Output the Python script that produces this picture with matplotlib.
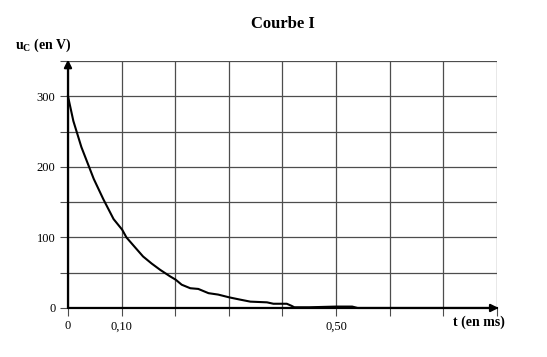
# Courbe I : décharge du condensateur, u_C en fonction de t
import matplotlib.pyplot as plt
import numpy as np

# valeurs
t_ms = [0.0, 0.010, 0.025, 0.048, 0.066, 0.085, 0.101, 0.109, 0.125, 0.140,
        0.156, 0.172, 0.190, 0.201, 0.212, 0.228, 0.243, 0.262, 0.280, 0.301,
        0.320, 0.340, 0.371, 0.383, 0.408, 0.417, 0.422, 0.450, 0.500, 0.530,
        0.540, 0.600, 0.700, 0.800]
u_C = [300, 265, 228, 183, 154, 126, 111, 100, 86, 73,
       63, 54, 45, 40, 33, 28, 27, 21, 19, 15,
       12, 9, 8, 6, 6, 3, 1, 1, 2, 2,
       0, 0, 0, 0]

x_ticks = [0, 0.1, 0.2, 0.3, 0.4, 0.5, 0.6, 0.7, 0.8]
x_labels = ['0', '0,10', '', '', '', '0,50', '', '', '']
y_ticks = [0, 50, 100, 150, 200, 250, 300, 350]
y_labels = ['0', '', '100', '', '200', '', '300', '']


def main():
    plt.rcParams['font.family'] = ['Liberation Serif', 'DejaVu Serif']
    plt.rcParams['mathtext.fontset'] = 'custom'
    plt.rcParams['mathtext.rm'] = 'Liberation Serif'

    fig = plt.figure(figsize=(5.47, 3.57), dpi=100)
    ax = fig.add_axes([0.1243, 0.1373, 0.7843, 0.6917])

    ax.set_xlim(0, 0.8)
    ax.set_ylim(0, 350)
    ax.set_xticks(x_ticks)
    ax.set_xticklabels(x_labels, fontsize=9)
    ax.set_yticks(y_ticks)
    ax.set_yticklabels(y_labels, fontsize=9)
    ax.tick_params(direction='out', length=6, width=0.8, color='0.3', pad=3)
    ax.grid(True, color='0.3', linewidth=0.9)
    for s in ax.spines.values():
        s.set_visible(False)

    # axes fléchés
    ax.annotate('', xy=(0.803, 0), xytext=(0, 0),
                arrowprops=dict(arrowstyle='-|>', color='black', lw=1.6,
                                mutation_scale=11, shrinkA=0, shrinkB=0),
                annotation_clip=False)
    ax.annotate('', xy=(0, 352), xytext=(0, 0),
                arrowprops=dict(arrowstyle='-|>', color='black', lw=1.6,
                                mutation_scale=11, shrinkA=0, shrinkB=0),
                annotation_clip=False)

    ax.plot(t_ms, u_C, color='black', linewidth=1.5, clip_on=False)

    fig.text(0.5174, 0.933, 'Courbe I', ha='center', va='center',
             fontsize=12, fontweight='bold')
    fig.text(0.027, 0.874, r'u$_\mathregular{C}$ (en V)', ha='left', va='center',
             fontsize=10, fontweight='bold')
    fig.text(0.8282, 0.098, 't (en ms)', ha='left', va='center',
             fontsize=10, fontweight='bold')

    fig.savefig('out.png', dpi=100)


if __name__ == "__main__":
    main()
